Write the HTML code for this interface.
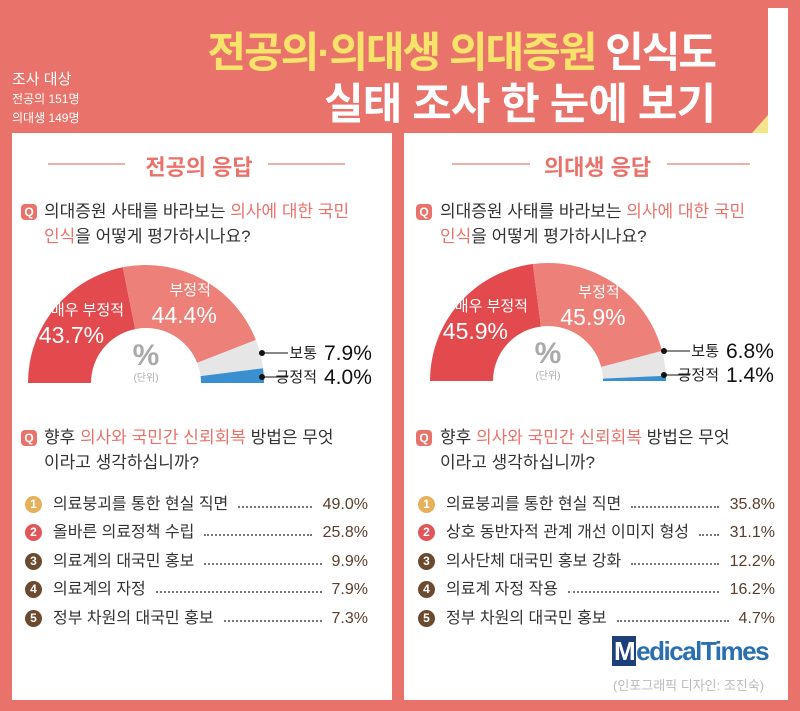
<!DOCTYPE html>
<html><head><meta charset="utf-8">
<style>
body{margin:0;width:800px;height:711px;overflow:hidden;background:#e9736b;font-family:"Liberation Sans","Noto Sans CJK KR",sans-serif;position:relative}
svg text{font-family:"Liberation Sans","Noto Sans CJK KR",sans-serif}
.abs{position:absolute}
.panel{position:absolute;background:#fff;top:133px;height:567px}
.t{position:absolute;white-space:nowrap}
.q{font-size:17px;color:#333;line-height:25px}
.q .hl{color:#e9736b}
.qi{position:absolute;width:16px;height:16px;border-radius:4px;background:#e9736b;color:#fff;font-size:12px;font-weight:bold;text-align:center;line-height:16px}
.li{position:absolute;font-size:16px;color:#333;white-space:nowrap;line-height:20px}
.num{position:absolute;width:17px;height:17px;border-radius:50%;color:#fff;font-size:12px;font-weight:bold;text-align:center;line-height:17px}
.dots{position:absolute;border-top:2px dotted #777;height:0}
.val{position:absolute;font-size:16px;color:#5a3d2b;text-align:right;width:70px;line-height:20px}
.sl{position:absolute;color:#fff;white-space:nowrap;text-align:center;width:120px}
</style></head><body>
<div class="abs" style="left:768px;top:8px;width:20px;height:125px;background:#fff"></div>
<div class="abs" style="left:752px;top:115px;width:0;height:0;border-left:16px solid transparent;border-bottom:18px solid #f3e58a"></div>
<div class="t" style="right:85px;top:19px;font-size:42px;font-weight:bold;color:#f8e36a;letter-spacing:-2px">전공의·의대생 의대증원 <span style="color:#fff">인식도</span></div>
<div class="t" style="right:85px;top:70px;font-size:43px;font-weight:bold;color:#fff;letter-spacing:-1px">실태 조사 한 눈에 보기</div>
<div class="t" style="left:12px;top:70px;font-size:15px;color:#fff;line-height:19px">조사 대상<br><span style="font-size:12px;line-height:16px">전공의 151명<br>의대생 149명</span></div>

<div class="panel" style="left:12px;width:380px"></div>
<div class="panel" style="left:404px;width:384px"></div>

<div class="abs" style="left:48px;top:163px;width:77px;height:2px;background:#f0b0aa"></div>
<div class="abs" style="left:268px;top:163px;width:77px;height:2px;background:#f0b0aa"></div>
<div class="t" style="left:143px;top:150px;width:112px;text-align:center;font-size:22px;font-weight:bold;color:#e9736b">전공의 응답</div>
<div class="abs" style="left:452px;top:163px;width:78px;height:2px;background:#f0b0aa"></div>
<div class="abs" style="left:667px;top:163px;width:83px;height:2px;background:#f0b0aa"></div>
<div class="t" style="left:535px;top:150px;width:125px;text-align:center;font-size:22px;font-weight:bold;color:#e9736b">의대생 응답</div>

<div class="qi" style="left:21px;top:204px">Q</div>
<div class="t q" style="left:44px;top:199px">의대증원 사태를 바라보는 <span class="hl">의사에 대한 국민</span><br><span class="hl">인식</span>을 어떻게 평가하시나요?</div>
<div class="qi" style="left:416px;top:204px">Q</div>
<div class="t q" style="left:440px;top:199px">의대증원 사태를 바라보는 <span class="hl">의사에 대한 국민</span><br><span class="hl">인식</span>을 어떻게 평가하시나요?</div>
<div class="qi" style="left:21px;top:430px">Q</div>
<div class="t q" style="left:44px;top:425px">향후 <span class="hl">의사와 국민간 신뢰회복</span> 방법은 무엇<br>이라고 생각하십니까?</div>
<div class="qi" style="left:416px;top:430px">Q</div>
<div class="t q" style="left:440px;top:425px">향후 <span class="hl">의사와 국민간 신뢰회복</span> 방법은 무엇<br>이라고 생각하십니까?</div>

<svg id="charts" class="abs" style="left:0;top:0" width="800" height="711"></svg>
<div id="labels"></div>
<div id="lists"></div>

<div class="t" style="left:612px;top:636px;font-size:26px;font-weight:bold;color:#2a6fb0;letter-spacing:-1.5px"><span style="background:#1d3f7a;color:#fff;padding:0 2px">M</span>edicalTimes</div>
<div class="t" style="left:613px;top:675px;font-size:13px;color:#bbb">(인포그래픽 디자인: 조진숙)</div>

<script>
const categories=["매우 부정적","부정적","보통","긍정적"];
const residentValues=[43.7,44.4,7.9,4.0];
const studentValues=[45.9,45.9,6.8,1.4];
const colors=["#e24a4e","#ee807a","#e6e6e6","#3a8fd0"];
const list1Labels=["의료붕괴를 통한 현실 직면","올바른 의료정책 수립","의료계의 대국민 홍보","의료계의 자정","정부 차원의 대국민 홍보"];
const list1Values=[49.0,25.8,9.9,7.9,7.3];
const list2Labels=["의료붕괴를 통한 현실 직면","상호 동반자적 관계 개선 이미지 형성","의사단체 대국민 홍보 강화","의료계 자정 작용","정부 차원의 대국민 홍보"];
const list2Values=[35.8,31.1,12.2,16.2,4.7];
const ns="http://www.w3.org/2000/svg";
const svg=document.getElementById('charts');
const lb=document.getElementById('labels');
function el(t,a){const e=document.createElementNS(ns,t);for(const k in a)e.setAttribute(k,a[k]);svg.appendChild(e);return e;}
function pt(cx,cy,r,a){return [cx-r*Math.cos(a),cy-r*Math.sin(a)];}
function donut(cx,cy,vals,prefix){
 const R=118,r=55,tot=vals.reduce((a,b)=>a+b,0);let acc=0;
 vals.forEach((v,i)=>{
  const a0=acc/tot*Math.PI,a1=(acc+v)/tot*Math.PI;acc+=v;
  const p0=pt(cx,cy,R,a0),p1=pt(cx,cy,R,a1),q1=pt(cx,cy,r,a1),q0=pt(cx,cy,r,a0);
  const p=el('path',{d:`M${p0} A${R},${R} 0 0 1 ${p1} L${q1} A${r},${r} 0 0 0 ${q0}Z`,fill:colors[i]});
  
  
  if(i<2){const m=(a0+a1)/2,c=pt(cx,cy,86,m);
   const off=i===0?8:3;
   const d1=document.createElement('div');d1.className='sl';d1.style.fontSize='15px';
   d1.style.left=(c[0]+off-60)+'px';d1.style.top=(c[1]-29)+'px';d1.textContent=categories[i];
   
   
   const d2=document.createElement('div');d2.className='sl';d2.style.fontSize='23px';
   d2.style.left=(c[0]-off-60)+'px';d2.style.top=(c[1]-6)+'px';d2.textContent=v.toFixed(1)+'%';
   
   
   lb.appendChild(d1);lb.appendChild(d2);}
 });
 const pc=el('text',{x:cx,y:cy-18,'text-anchor':'middle','font-size':30,'font-weight':'bold',fill:'#aaa'});pc.textContent='%';
 const un=el('text',{x:cx,y:cy-2,'text-anchor':'middle','font-size':10,fill:'#aaa'});un.textContent='(단위)';
 [[2,-30],[3,-6]].forEach(([i,dy])=>{
  const y=cy+dy,x0=cx+R-2;
  el('circle',{cx:x0,cy:y,r:3,fill:'#111'});
  el('line',{x1:x0,y1:y,x2:x0+26,y2:y,stroke:'#111'});
  const l=el('text',{x:x0+55,y:y+5,'text-anchor':'end','font-size':15,fill:'#222'});l.textContent=categories[i];
  
  const t=el('text',{x:x0+62,y:y+7,'font-size':21,fill:'#111'});t.textContent=vals[i].toFixed(1)+'%';
  
 });
}
donut(146,383,residentValues,'resident');
donut(548,381,studentValues,'student');
const numColors=["#e6b15a","#e0575a","#6b4a2f","#6b4a2f","#6b4a2f"];
const box=document.getElementById('lists');
function list(x0,labels,vals,prefix,rightEdge){
 labels.forEach((lab,i)=>{
  const y=495+i*28.4;
  const n=document.createElement('div');n.className='num';n.style.left=(x0+13)+'px';n.style.top=(y+1)+'px';n.style.background=numColors[i];n.textContent=i+1;
  
  
  const t=document.createElement('div');t.className='li';t.style.left=(x0+41)+'px';t.style.top=y+'px';t.textContent=lab;
  
  
  const v=document.createElement('div');v.className='val';v.style.left=(rightEdge-70)+'px';v.style.top=y+'px';v.textContent=vals[i].toFixed(1)+'%';
  
  
  box.appendChild(n);box.appendChild(t);box.appendChild(v);
  const d=document.createElement('div');d.className='dots';
  
  
  box.appendChild(d);
  const tw=t.getBoundingClientRect().width;
  const vw=vals[i]>=10?50:40;
  const start=x0+41+tw+10,end=rightEdge-vw-6;
  d.style.left=start+'px';d.style.top=(y+11)+'px';d.style.width=Math.max(4,end-start)+'px';
 });
}
list(12,list1Labels,list1Values,'resident',368);
list(405,list2Labels,list2Values,'student',775);
</script>
</body></html>
